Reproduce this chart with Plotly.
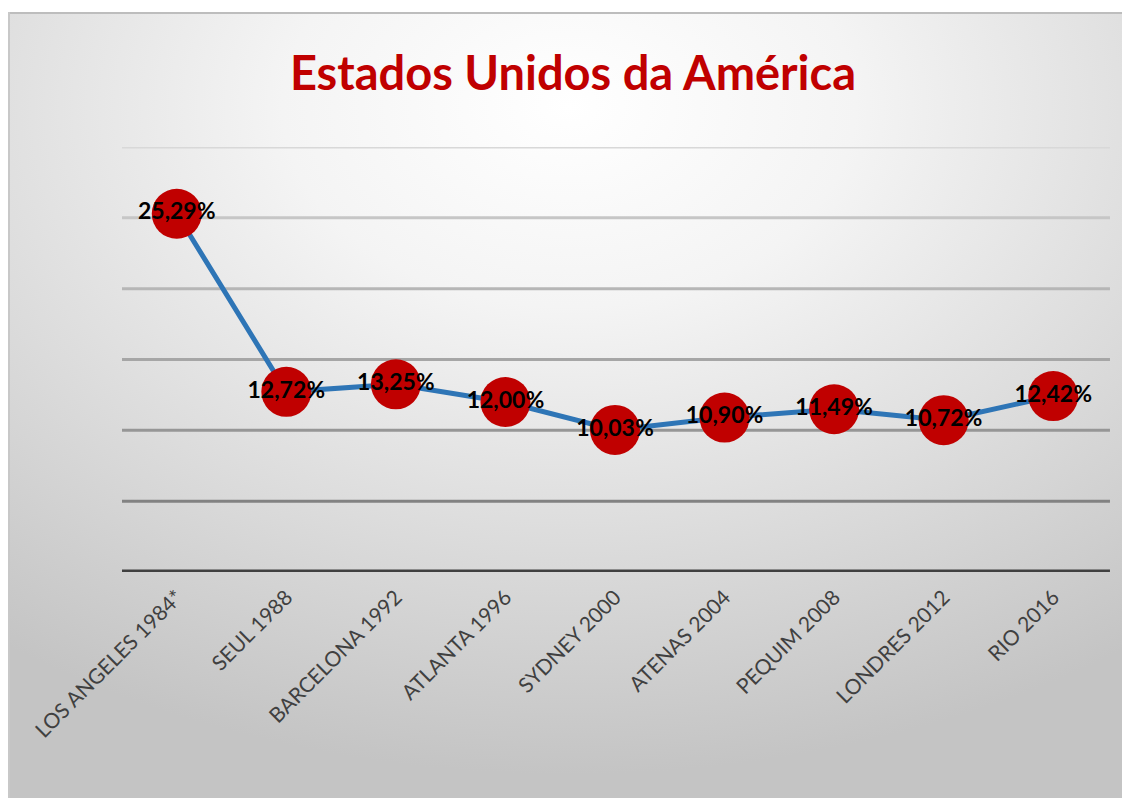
import base64
import plotly.graph_objects as go

# ---- data ----
categories = ["LOS ANGELES 1984*", "SEUL 1988", "BARCELONA 1992", "ATLANTA 1996",
              "SYDNEY 2000", "ATENAS 2004", "PEQUIM 2008", "LONDRES 2012", "RIO 2016"]
values = [25.29, 12.72, 13.25, 12.00, 10.03, 10.90, 11.49, 10.72, 12.42]
y_ticks = [0, 5, 10, 15, 20, 25, 30]
title_text = "Estados Unidos da América"

labels = [f"{v:.2f}".replace(".", ",") + "%" for v in values]

# ---- styling ----
grid_colors = {30: "#d8d8d8", 25: "#c6c6c6", 20: "#b6b6b6", 15: "#a6a6a6",
               10: "#969696", 5: "#828282", 0: "#404040"}

# page has an 8px body margin: figure occupies window x 8..1130, y 8..798
OFF = 8
W, H = 1130 - OFF, 798 - OFF
L, R, T, B = 122 - OFF, 1130 - 1108, 147 - OFF, 798 - 572
pw, ph = W - L - R, H - T - B

svg = """<svg xmlns='http://www.w3.org/2000/svg' width='1122' height='786' preserveAspectRatio='none'>
<defs><radialGradient id='g' cx='0.5' cy='0.12' r='0.85' fx='0.5' fy='0.12'>
<stop offset='0' stop-color='#ffffff'/><stop offset='0.3' stop-color='#f4f4f4'/>
<stop offset='1' stop-color='#c4c4c4'/></radialGradient></defs>
<rect x='0' y='0' width='1122' height='786' fill='url(#g)'/>
<line x1='0' y1='1' x2='1122' y2='1' stroke='#bdbdbd' stroke-width='2'/>
<line x1='1' y1='0' x2='1' y2='786' stroke='#c8c8c8' stroke-width='2'/>
</svg>"""
bg_src = "data:image/svg+xml;base64," + base64.b64encode(svg.encode()).decode()

fig = go.Figure()
fig.add_trace(go.Scatter(
    x=categories, y=values, mode="lines+markers+text",
    line=dict(color="#2e75b6", width=5),
    marker=dict(size=50, color="#c00000", line=dict(width=0)),
    text=labels, textposition="middle center",
    textfont=dict(family="Lato", size=23, color="#000000", weight="bold"),
    cliponaxis=False, hoverinfo="skip",
))

shapes = []
for v in y_ticks:
    shapes.append(dict(type="line", xref="paper", yref="y", x0=0, x1=1.002, y0=v, y1=v,
                       line=dict(color=grid_colors[v], width=5 if v == 0 else 3), layer="below"))

fig.update_layout(
    width=W, height=H,
    margin=dict(l=L, r=R, t=T, b=B),
    paper_bgcolor="white", plot_bgcolor="rgba(0,0,0,0)",
    showlegend=False,
    title=dict(text=title_text, x=(573 - OFF) / W, xanchor="center", y=1 - (74 - OFF) / H,
               yanchor="middle",
               font=dict(family="Lato", size=47, color="#c00000", weight="bold")),
    xaxis=dict(type="category", range=[-0.5, 8.5], showgrid=False, zeroline=False, showline=False,
               ticks="", tickangle=-45, tickfont=dict(family="Lato", size=21, color="#404040"),
               ticklabelstandoff=8),
    yaxis=dict(range=[0, 30], tickvals=y_ticks, showticklabels=False, showgrid=False,
               zeroline=False, showline=False),
    shapes=shapes,
    images=[dict(source=bg_src, xref="paper", yref="paper",
                 x=(8 - 122) / pw, y=(572 - 12) / ph, sizex=(1130 - 8) / pw, sizey=(798 - 12) / ph,
                 xanchor="left", yanchor="top", sizing="stretch", layer="below")],
)

fig.write_html("out.html")
